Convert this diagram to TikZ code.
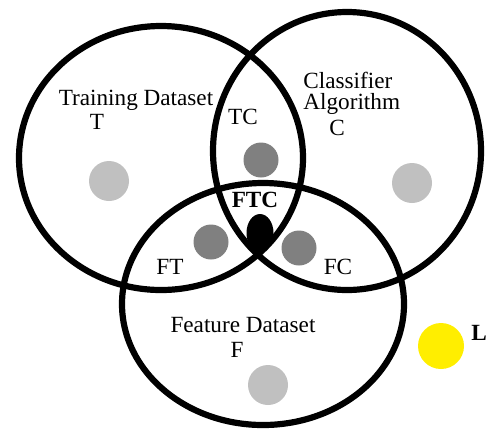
\documentclass[tikz,border=0pt]{standalone}
\usepackage{fontspec}
\setmainfont{Liberation Serif}
\usetikzlibrary{calc}
\usepackage{xcolor}

\definecolor{onegray}{HTML}{C0C0C0}
\definecolor{twogray}{HTML}{808080}
\definecolor{sunyellow}{HTML}{FFEE00}

\begin{document}
\begin{tikzpicture}[x=0.5pt,y=-0.5pt,
    setline/.style={line width=3.1pt},
    blob/.style={circle,inner sep=0pt,minimum size=#1},
    lbl/.style={font=\fontsize{11.6}{13}\selectfont,inner sep=0pt}]
      \useasboundingbox (0,0) rectangle (487,430);

      % Sets
      \draw[setline] (161,158) ellipse [x radius=142, y radius=132];
      \draw[setline] (347,151) ellipse [x radius=134, y radius=139];
      \draw[setline] (263,304) ellipse [x radius=141, y radius=121];

      % Single sets
      \foreach \n/\x/\y in {T/109/181, C/412/183, F/268/385}
      {
        \node[blob=20pt, fill=onegray] (dot\n) at (\x,\y) {};
      }

      % Pairs
      \foreach \n/\x/\y in {TC/261/160, FT/211/242, FC/299/248}
      {
        \node[blob=17.5pt, fill=twogray] (dot\n) at (\x,\y) {};
      }

      % All three
      \fill (260,233) ellipse [x radius=13.5, y radius=19];

      % Outside
      \node[blob=23pt, fill=sunyellow] (dotL) at (441,346) {};

      % Labels
      \node[lbl] (nameT) at (136,100) {Training Dataset};
      \node[lbl] (letT) at (97,122) {T};
      \node[lbl, anchor=west] (nameC) at (303,80) {Classifier};
      \node[lbl, anchor=west] (nameC2) at (303,104) {Algorithm};
      \node[lbl] (letC) at (337,128) {C};
      \node[lbl] (letTC) at (243,117) {TC};
      \node[lbl, font=\fontsize{11.6}{13}\selectfont\bfseries] (letFTC) at (255,200) {FTC};
      \node[lbl] (letFT) at (170,267) {FT};
      \node[lbl] (letFC) at (338,267) {FC};
      \node[lbl] (nameF) at (243,325) {Feature Dataset};
      \node[lbl] (letF) at (237,350) {F};
      \node[lbl, font=\fontsize{11.6}{13}\selectfont\bfseries] (letL) at (479,333) {L};
\end{tikzpicture}
\end{document}
